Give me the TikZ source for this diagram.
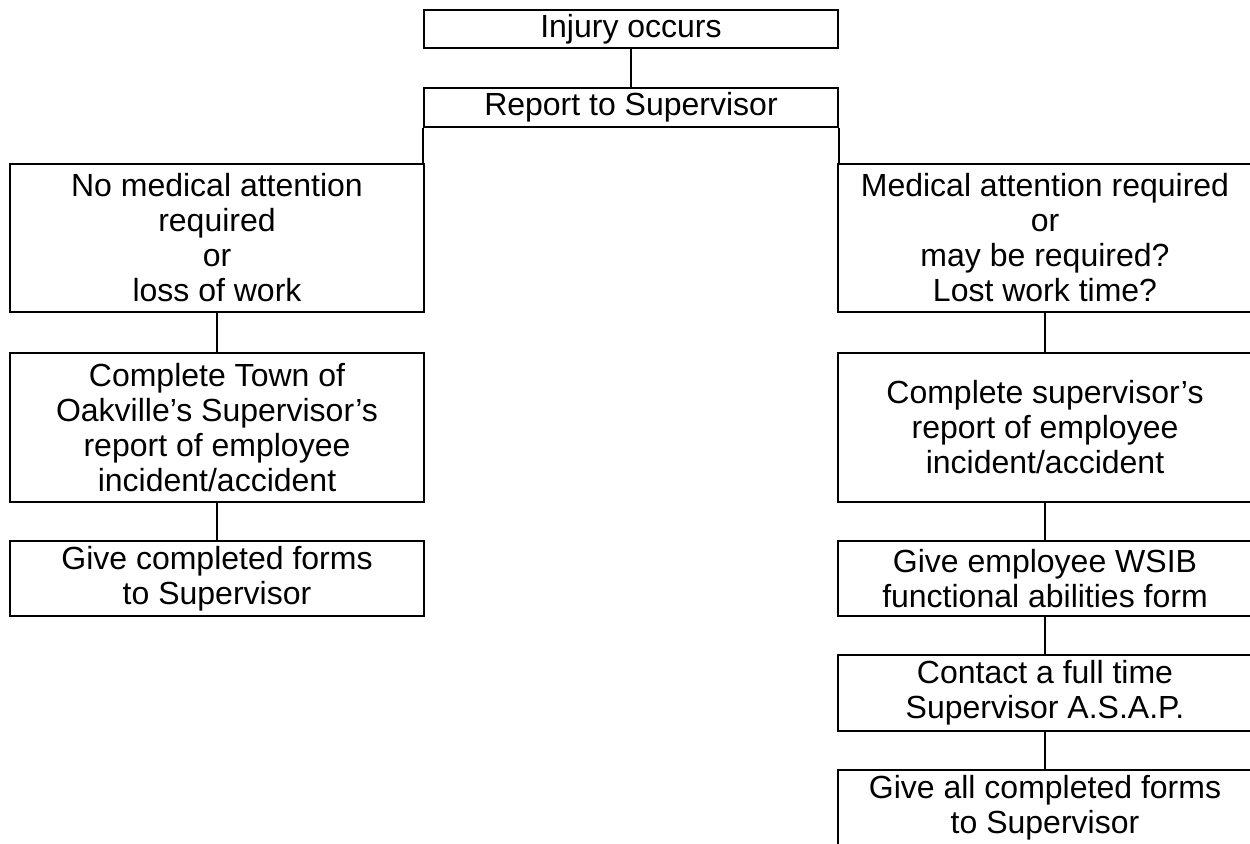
\documentclass[tikz,border=0pt]{standalone}
\usepackage{fontspec}
\setmainfont{Liberation Sans}
\begin{document}
\begin{tikzpicture}[x=0.5pt,y=-0.5pt,
  box/.style={draw,line width=1.1pt,rectangle,inner sep=0pt,align=center,
    minimum width=207pt,font=\fontsize{16}{17.5}\selectfont},
  link/.style={line width=1.1pt}]
\useasboundingbox (0,0) rectangle (1250,844);
\clip (0,0) rectangle (1250,844);
\node[box,minimum height=19pt] (inj) at (631,29) {Injury occurs};
\node[box,minimum height=19.5pt] (rep) at (631,107.5) {Report to Supervisor};
\node[box,minimum height=74pt] (l1) at (217,238) {No medical attention\\required\\or\\loss of work};
\node[box,minimum height=74.5pt] (l2) at (217,427.5) {Complete Town of\\Oakville’s Supervisor’s\\report of employee\\incident/accident};
\node[box,minimum height=37.5pt] (l3) at (217,578.5) {Give completed forms\\to Supervisor};
\node[box,minimum height=74pt] (r1) at (1045,238) {Medical attention required\\or\\may be required?\\Lost work time?};
\node[box,minimum height=74.5pt] (r2) at (1045,427.5) {Complete supervisor’s\\report of employee\\incident/accident};
\node[box,minimum height=37.5pt] (r3) at (1045,578.5) {Give employee WSIB\\functional abilities form};
\node[box,minimum height=38pt] (r4) at (1045,693) {Contact a full time\\Supervisor A.S.A.P.};
\node[box,minimum height=38pt] (r5) at (1045,808) {Give all completed forms\\to Supervisor};
\draw[link] (inj.south) -- (rep.north);
\draw[link] (rep.south west) -- (rep.south west |- l1.north);
\draw[link] (rep.south east) -- (rep.south east |- r1.north);
\draw[link] (l1.south) -- (l2.north);
\draw[link] (l2.south) -- (l3.north);
\draw[link] (r1.south) -- (r2.north);
\draw[link] (r2.south) -- (r3.north);
\draw[link] (r3.south) -- (r4.north);
\draw[link] (r4.south) -- (r5.north);
\end{tikzpicture}
\end{document}
